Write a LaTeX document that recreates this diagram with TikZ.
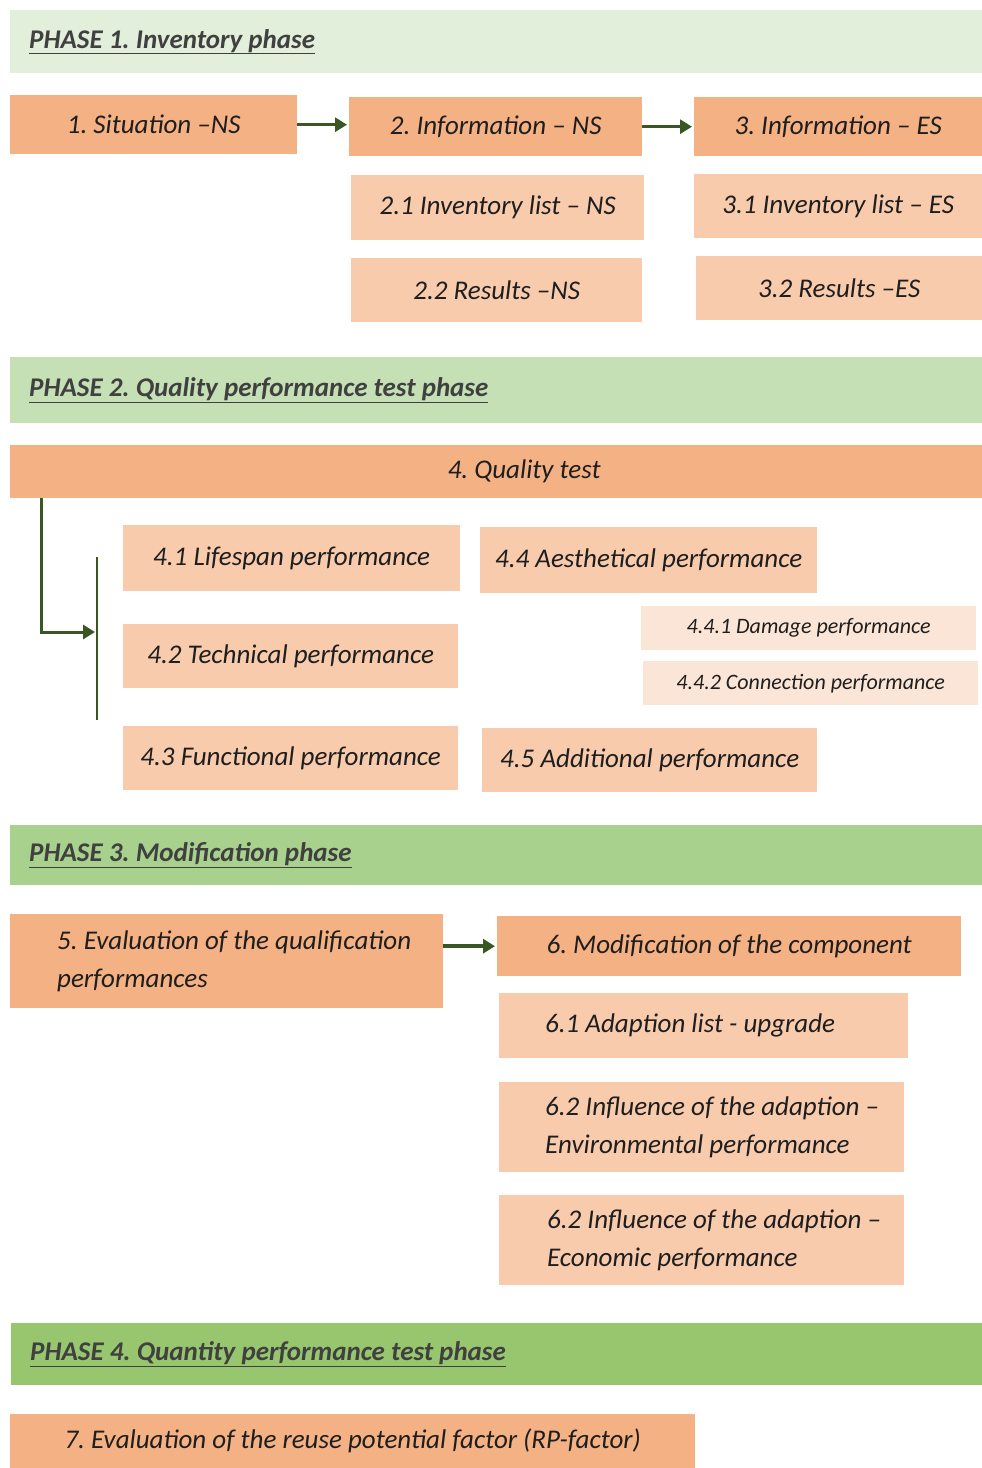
\documentclass[tikz,border=0pt]{standalone}
\usepackage{fontspec}
\setmainfont{Carlito}
\usetikzlibrary{arrows.meta,positioning}
\definecolor{PhaseOne}{HTML}{E2EFDA}
\definecolor{PhaseTwo}{HTML}{C5E0B4}
\definecolor{PhaseThree}{HTML}{A9D18E}
\definecolor{PhaseFour}{HTML}{97C66F}
\definecolor{OrangeDark}{HTML}{F4B183}
\definecolor{OrangeLight}{HTML}{F8CBAD}
\definecolor{OrangePale}{HTML}{FBE5D6}
\definecolor{DarkGreen}{HTML}{385723}
\definecolor{HeadInk}{HTML}{404040}
\definecolor{TextInk}{HTML}{1E1E1E}
\frenchspacing

\begin{document}
\begin{tikzpicture}[x=1pt,y=-1pt,>={Triangle[length=12pt,width=14pt]},
    every node/.style={inner sep=0pt,anchor=north west,text=TextInk,
      font=\fontsize{27}{38}\selectfont\itshape},
    phase/.style={fill=#1,text width=972pt,minimum height=63pt,align=flush left,
      text=HeadInk,font=\fontsize{27}{33}\selectfont\bfseries\itshape},
    mainbox/.style={fill=OrangeDark,align=center},
    subbox/.style={fill=OrangeLight,align=center},
    minorbox/.style={fill=OrangePale,align=center,
      font=\fontsize{22}{26}\selectfont\itshape},
    leftbox/.style={fill=#1,align=flush left},
    flow/.style={->,line width=3.5pt,DarkGreen,shorten >=2pt}]
  \useasboundingbox (0,0) rectangle (982,1468);

  % phase 1
  \node[phase=PhaseOne] (ph1) at (10,10) {\hspace*{19pt}\underline{PHASE 1. Inventory phase}};
  \node[mainbox,minimum width=287pt,minimum height=59pt] (sit) at (10,95) {1. Situation –NS};
  \node[mainbox,minimum width=293pt,minimum height=59pt] (infoNS) at (349,97) {2. Information – NS};
  \node[mainbox,minimum width=288pt,minimum height=59pt] (infoES) at (694,97) {3. Information – ES};
  \node[subbox,minimum width=293pt,minimum height=65pt] (invNS) at (351,175) {2.1 Inventory list – NS};
  \node[subbox,minimum width=291pt,minimum height=64pt] (resNS) at (351,258) {2.2 Results –NS};
  \node[subbox,minimum width=288pt,minimum height=64pt] (invES) at (694,174) {3.1 Inventory list – ES};
  \node[subbox,minimum width=286pt,minimum height=64pt] (resES) at (696,256) {3.2 Results –ES};
  \draw[flow] (sit.east) -- (sit.east -| infoNS.west);
  \draw[flow] (infoNS.east) -- (infoNS.east -| infoES.west);

  % phase 2
  \node[phase=PhaseTwo,minimum height=66pt] (ph2) at (10,357) {\hspace*{19pt}\underline{PHASE 2. Quality performance test phase}};
  \node[mainbox,minimum width=972pt,minimum height=53pt] (qual) at (10,445) {\hspace*{56pt}4. Quality test};
  \node[subbox,minimum width=337pt,minimum height=66pt] (life) at (123,525) {4.1 Lifespan performance};
  \node[subbox,minimum width=335pt,minimum height=64pt] (tech) at (123,624) {4.2 Technical performance};
  \node[subbox,minimum width=335pt,minimum height=64pt] (func) at (123,726) {4.3 Functional performance};
  \node[subbox,minimum width=337pt,minimum height=66pt] (aest) at (480,527) {4.4 Aesthetical performance};
  \node[minorbox,minimum width=335pt,minimum height=44pt] (dmg) at (641,606) {4.4.1 Damage performance};
  \node[minorbox,minimum width=335pt,minimum height=44pt] (conn) at (643,661) {4.4.2 Connection performance};
  \node[subbox,minimum width=335pt,minimum height=64pt] (addi) at (482,728) {4.5 Additional performance};
  \coordinate (brTop) at (97,557);
  \coordinate (brBot) at (97,720);
  \coordinate (brMid) at (95,632);
  \draw[DarkGreen,line width=2pt] (brTop) -- (brBot);
  \draw[flow,line width=3pt,shorten >=0pt] ([xshift=31pt]qual.south west) |- (brMid);

  % phase 3
  \node[phase=PhaseThree,minimum height=60pt] (ph3) at (10,825) {\hspace*{19pt}\underline{PHASE 3. Modification phase}};
  \node[leftbox=OrangeDark,text width=433pt,minimum height=94pt] (evalq) at (10,914)
    {\hspace*{47pt}5. Evaluation of the qualification\\\hspace*{47pt}performances};
  \node[mainbox,minimum width=464pt,minimum height=60pt] (modif) at (497,916) {6. Modification of the component};
  \node[leftbox=OrangeLight,text width=409pt,minimum height=65pt] (adapt) at (499,993)
    {\hspace*{46pt}6.1 Adaption list - upgrade};
  \node[leftbox=OrangeLight,text width=405pt,minimum height=90pt] (envi) at (499,1082)
    {\hspace*{46pt}6.2 Influence of the adaption –\\\hspace*{46pt}Environmental performance};
  \node[leftbox=OrangeLight,text width=405pt,minimum height=90pt] (econ) at (499,1195)
    {\hspace*{48pt}6.2 Influence of the adaption –\\\hspace*{48pt}Economic performance};
  \draw[flow] (evalq.east |- modif.west) -- (modif.west);

  % phase 4
  \node[phase=PhaseFour,text width=971pt,minimum height=62pt] (ph4) at (11,1323) {\hspace*{19pt}\underline{PHASE 4. Quantity performance test phase}};
  \node[mainbox,minimum width=685pt,minimum height=54pt] (rpf) at (10,1414) {7. Evaluation of the reuse potential factor (RP-factor)};
\end{tikzpicture}
\end{document}
